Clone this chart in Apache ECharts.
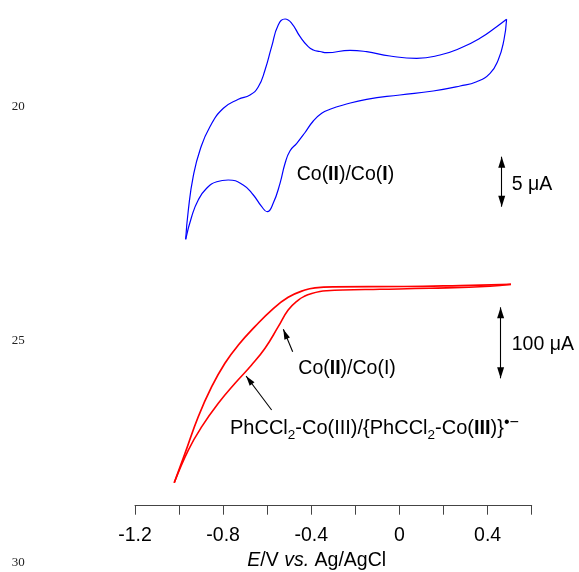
<!DOCTYPE html>
<html><head><meta charset="utf-8">
<script src="https://cdn.jsdelivr.net/npm/echarts@6/dist/echarts.min.js"></script>
<style>html,body{margin:0;padding:0;background:#fff}#c{width:579px;height:572px}</style>
</head><body><div id="c"></div>
<script>
// ---- data (potential in V vs. Ag/AgCl, current in µA) ----
const xTickLabels = ['-1.2', '-0.8', '-0.4', '0', '0.4'];

// Blue CV (small scale): cathodic sweep 0.49 V -> -0.97 V
const blueCathodicV = [0.486, 0.474, 0.448, 0.411, 0.350, 0.275, 0.153, 0.002, -0.149, -0.255, -0.315, -0.353, -0.391, -0.430, -0.466, -0.497, -0.519, -0.542, -0.573, -0.600, -0.625, -0.663, -0.709, -0.777, -0.829, -0.875, -0.913, -0.943, -0.970];
const blueCathodicI = [5.57, 3.5, 1.5, 0.17, -0.67, -1.1, -1.6, -2.0, -2.43, -3.0, -3.43, -3.83, -4.6, -5.8, -6.83, -7.6, -8.83, -10.83, -12.83, -13.67, -13.17, -12.0, -11.0, -10.5, -10.67, -11.33, -12.5, -14.17, -16.43];
// Blue CV: anodic sweep -0.97 V -> 0.49 V
const blueAnodicV = [-0.970, -0.958, -0.936, -0.905, -0.860, -0.799, -0.731, -0.678, -0.641, -0.610, -0.580, -0.550, -0.519, -0.489, -0.451, -0.414, -0.391, -0.361, -0.330, -0.224, -0.149, -0.043, 0.078, 0.184, 0.275, 0.365, 0.441, 0.486];
const blueAnodicI = [-16.43, -13.5, -10.17, -7.5, -5.17, -3.33, -2.43, -2.0, -1.2, 0.5, 2.83, 5.0, 5.6, 5.17, 3.83, 2.83, 2.5, 2.35, 2.23, 2.47, 2.33, 1.9, 1.67, 2.0, 2.67, 3.67, 4.83, 5.57];

// Red CV (large scale): outer branch
const redOuterV = [-1.022, -0.973, -0.913, -0.852, -0.792, -0.731, -0.656, -0.580, -0.505, -0.429, -0.383, -0.300, 0.020, 0.275, 0.506];
const redOuterI = [-271.4, -230.0, -178.5, -136.2, -103.2, -77.5, -51.7, -28.2, -10.3, 0, 3.1, 4.5, 4.9, 6.3, 8.0];
// Red CV: inner branch
const redInnerV = [0.506, 0.411, 0.138, -0.088, -0.256, -0.330, -0.361, -0.398, -0.429, -0.459, -0.505, -0.550, -0.610, -0.671, -0.746, -0.822, -0.897, -0.958, -1.022];
const redInnerI = [8.0, 5.2, 2.4, 1.0, 0, -1.0, -2.1, -4.9, -8.5, -14.1, -28.2, -51.7, -82.1, -105.6, -131.4, -159.6, -192.5, -225.4, -271.4];

// Scale bars (µA)
const blueBarV = 0.464, blueBarTop = -8.17, blueBarSpan = 5;
const redBarV = 0.459, redBarTop = -24.4, redBarSpan = 100;
// Annotation arrows on the red CV: [tail, tip]
const arrowCo = [[-0.4845, -86.9], [-0.527, -55.4]];
const arrowPh = [[-0.580, -169.0], [-0.696, -121.1]];

// ---- chart ----
const FF = '"Liberation Sans", Arial, Helvetica, sans-serif';
const SERIF = '"Liberation Serif", "Times New Roman", serif';
const FS = 19.5;
const zip = (v, i) => v.map((x, k) => [x, i[k]]);
function makeRich(fs) {
  const base = (extra) => Object.assign({ fontFamily: FF, fontSize: fs, fill: '#000', lineHeight: 27 }, extra || {});
  return {
    n: base(),
    b: base({ fontWeight: 'bold' }),
    i: base({ fontStyle: 'italic' }),
    sub: base({ fontSize: 13.5, lineHeight: 13.5, verticalAlign: 'bottom' }),
    sup: base({ fontSize: 16, lineHeight: 16, verticalAlign: 'top' })
  };
}
function txt(x, y, text, align, fs) {
  fs = fs || FS;
  return {
    type: 'text', x: x, y: y, silent: true,
    style: { text: text, rich: makeRich(fs), fontFamily: FF, fontSize: fs, fill: '#000', lineHeight: 27,
             align: align || 'left', verticalAlign: 'middle' }
  };
}
function lineNo(x, y, t) {
  return { type: 'text', x: x, y: y, silent: true,
    style: { text: t, fontFamily: SERIF, fontSize: 13, fill: '#222', align: 'left', verticalAlign: 'middle' } };
}
function arrowMark(pairs, symbols, size, offs) {
  return {
    silent: true, animation: false,
    symbol: symbols, symbolSize: size, symbolOffset: offs,
    lineStyle: { color: '#000', width: 1.1, type: 'solid' },
    itemStyle: { color: '#000' },
    label: { show: false },
    emphasis: { disabled: true },
    data: pairs.map(p => [{ coord: p[0] }, { coord: p[1] }])
  };
}

const chart = echarts.init(document.getElementById('c'), null, { renderer: 'canvas' });
chart.setOption({
  animation: false,
  backgroundColor: '#fff',
  grid: { left: 135, right: 47.3, top: 10, bottom: 66.3 },
  xAxis: {
    type: 'value', min: -1.2, max: 0.6, interval: 0.2,
    axisLine: { show: true, onZero: false, lineStyle: { color: '#444', width: 1 } },
    axisTick: { show: true, inside: false, length: 9, lineStyle: { color: '#444', width: 1 } },
    splitLine: { show: false },
    axisLabel: {
      margin: 20, fontSize: FS, fontFamily: FF, color: '#000',
      formatter: function (v) {
        const s = String(Math.round(v * 10) / 10);
        return xTickLabels.indexOf(s) >= 0 ? s : '';
      }
    }
  },
  yAxis: [
    { type: 'value', show: false, min: -43.07, max: 6.5, splitLine: { show: false } },
    { type: 'value', show: false, min: -303.8, max: 394.37, splitLine: { show: false } }
  ],
  series: [
    { type: 'line', yAxisIndex: 0, data: zip(blueCathodicV, blueCathodicI), symbol: 'none', smooth: 0.5,
      lineStyle: { color: '#0000ff', width: 1.2 }, silent: true,
      markLine: arrowMark([[[blueBarV, blueBarTop], [blueBarV, blueBarTop - blueBarSpan]]],
        ['triangle', 'triangle'], [7, 11], [[0, 5.5], [0, 5.5]]) },
    { type: 'line', yAxisIndex: 0, data: zip(blueAnodicV, blueAnodicI), symbol: 'none', smooth: 0.5,
      lineStyle: { color: '#0000ff', width: 1.2 }, silent: true },
    { type: 'line', yAxisIndex: 1, data: zip(redOuterV, redOuterI), symbol: 'none', smooth: 0.45,
      lineStyle: { color: '#ff0000', width: 1.7 }, silent: true,
      markLine: arrowMark([[[redBarV, redBarTop], [redBarV, redBarTop - redBarSpan]]],
        ['triangle', 'triangle'], [7, 11], [[0, 5.5], [0, 5.5]]) },
    { type: 'line', yAxisIndex: 1, data: zip(redInnerV, redInnerI), symbol: 'none', smooth: 0.45,
      lineStyle: { color: '#ff0000', width: 1.6 }, silent: true,
      markLine: arrowMark([arrowCo, arrowPh], ['none', 'triangle'], [6, 10], [[0, 0], [0, 5]]) }
  ],
  graphic: [
    txt(296.7, 174.5, '{n|Co(}{b|II}{n|)/Co(}{b|I}{n|)}'),
    txt(298.3, 368.3, '{n|Co(}{b|II}{n|)/Co(I)}'),
    txt(230, 428.3, '{n|PhCCl}{sub|2}{n|-Co(III)/{PhCCl}{sub|2}{n|-Co(}{b|III}{n|)}}{sup|•−}', 'left', 20),
    txt(511.7, 184.3, '{n|5 μA}'),
    txt(511.7, 345, '{n|100 μA}'),
    txt(316.7, 560.7, '{i|E}{n|/V }{i|vs.}{n| Ag/AgCl}', 'center'),
    lineNo(11.7, 106.7, '20'),
    lineNo(11.7, 341, '25'),
    lineNo(11.7, 563, '30')
  ]
});
</script>
</body></html>
